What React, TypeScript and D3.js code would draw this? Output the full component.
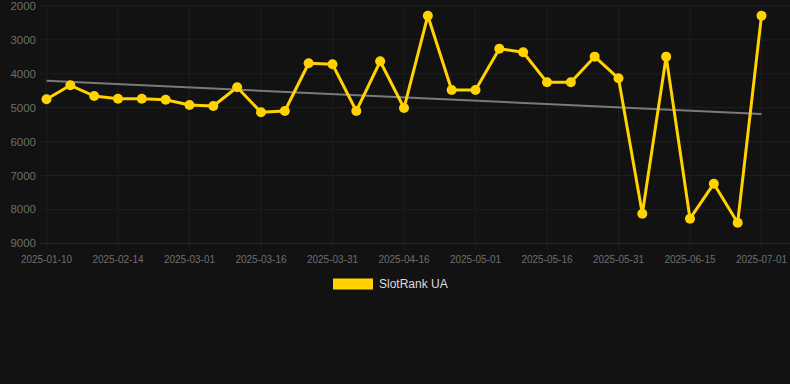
import React from "react";
import * as d3 from "d3";

const dates = [
  "2025-01-10","2025-01-20","2025-02-01","2025-02-14","2025-02-19","2025-02-24",
  "2025-03-01","2025-03-06","2025-03-11","2025-03-16","2025-03-21","2025-03-26",
  "2025-03-31","2025-04-04","2025-04-10","2025-04-16","2025-04-21","2025-04-26",
  "2025-05-01","2025-05-06","2025-05-11","2025-05-16","2025-05-21","2025-05-26",
  "2025-05-31","2025-06-05","2025-06-10","2025-06-15","2025-06-20","2025-06-25",
  "2025-07-01",
];
const ranks = [
  4752, 4339, 4655, 4735, 4735, 4764, 4920, 4950, 4398, 5136, 5097, 3690,
  3720, 5097, 3631, 5009, 2286, 4478, 4478, 3260, 3366, 4251, 4251, 3494,
  4133, 8127, 3494, 8274, 7242, 8392, 2286,
];
const trendEnds = [4204, 5186];
const yTicks = [2000, 3000, 4000, 5000, 6000, 7000, 8000, 9000];
const seriesName = "SlotRank UA";

const W = 790;
const H = 384;

export default function App() {
  const x = d3.scalePoint<string>().domain(dates).range([46.5, 761.5]);
  const y = d3.scaleLinear().domain([2000, 9000]).range([6, 243.3]);
  const tickDates = dates.filter((_, i) => i % 3 === 0);
  const line = d3
    .line<number>()
    .x((_, i) => x(dates[i]) as number)
    .y((d) => y(d));
  const x0 = x(dates[0]) as number;
  const x1 = x(dates[dates.length - 1]) as number;

  return (
    <svg
      width={W}
      height={H}
      style={{ position: "absolute", left: 0, top: 0, background: "#121212" }}
      fontFamily="Liberation Sans, Arial, sans-serif"
    >
      <rect width={W} height={H} fill="#121212" />
      {tickDates.map((d) => (
        <line key={"v" + d} x1={x(d)} x2={x(d)} y1={6} y2={249} stroke="#1d1d1d" strokeWidth={1} />
      ))}
      {yTicks.map((t) => (
        <g key={t}>
          <line
            x1={40}
            x2={W}
            y1={y(t)}
            y2={y(t)}
            stroke={t === 9000 ? "#2a2a2a" : "#1f1f1f"}
            strokeWidth={1}
          />
          <text x={36} y={y(t)} dy="0.35em" textAnchor="end" fontSize={11.5} fill="#6e6e6e">
            {t}
          </text>
        </g>
      ))}
      {tickDates.map((d) => (
        <text key={"t" + d} x={x(d)} y={259} dy="0.35em" textAnchor="middle" fontSize={10} fill="#6e6e6e">
          {d}
        </text>
      ))}
      <line
        x1={x0}
        x2={x1}
        y1={y(trendEnds[0])}
        y2={y(trendEnds[1])}
        stroke="#7a7a7a"
        strokeWidth={2}
      />
      <path d={line(ranks) || ""} fill="none" stroke="#FFD200" strokeWidth={3} strokeLinejoin="round" />
      {ranks.map((v, i) => (
        <circle key={i} cx={x(dates[i])} cy={y(v)} r={5} fill="#FFD200" />
      ))}
      <rect x={333} y={278.5} width={40} height={11} fill="#FFD200" />
      <text x={379} y={284} dy="0.35em" fontSize={12} fill="#dddddd">
        {seriesName}
      </text>
    </svg>
  );
}
